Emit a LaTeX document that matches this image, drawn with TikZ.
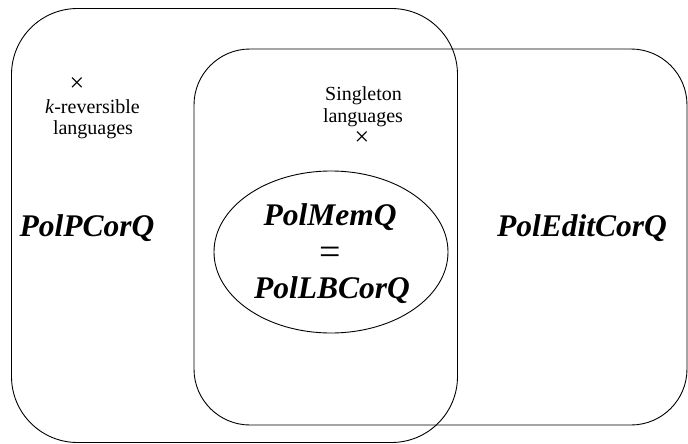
\documentclass[tikz,border=0pt]{standalone}
\usepackage{fontspec}
\setmainfont{Liberation Serif}
\usetikzlibrary{shapes.geometric}
\begin{document}
\begin{tikzpicture}[x=1pt,y=-1pt,
  setbox/.style={draw, line width=0.9pt, inner sep=0pt},
  big/.style={font=\fontsize{31.5}{36}\selectfont\bfseries\itshape, inner sep=0pt, anchor=base},
  small/.style={font=\fontsize{20}{22}\selectfont, inner sep=0pt, anchor=base},
  crossmark/.style={font=\fontsize{26}{26}\selectfont, inner sep=0pt}]
\useasboundingbox (0,0) rectangle (688,444);
\node[setbox, rounded corners=66pt, minimum width=446pt, minimum height=434pt] (pcor) at (234.5,225.5) {};
\node[setbox, rounded corners=56pt, minimum width=493pt, minimum height=376pt] (edit) at (440.5,237) {};
\node[setbox, ellipse, minimum width=234pt, minimum height=162pt] (mem) at (331,252) {};
\node[crossmark] (x1) at (77,85) {×};
\node[small] (krev1) at (92.5,113) {\textit{k}-reversible};
\node[small] (krev2) at (93,134) {languages};
\node[small] (single1) at (363.5,100) {Singleton};
\node[small] (single2) at (363,122) {languages};
\node[crossmark] (x2) at (362,139) {×};
\node[big] (ppcor) at (87,236) {PolPCorQ};
\node[big] (pedit) at (582,236) {PolEditCorQ};
\node[big] (pmem) at (330,225) {PolMemQ};
\node[font=\fontsize{38}{38}\selectfont, inner sep=0pt, anchor=base] (eq) at (330,264) {=};
\node[big] (plb) at (332,298) {PolLBCorQ};
\end{tikzpicture}
\end{document}
